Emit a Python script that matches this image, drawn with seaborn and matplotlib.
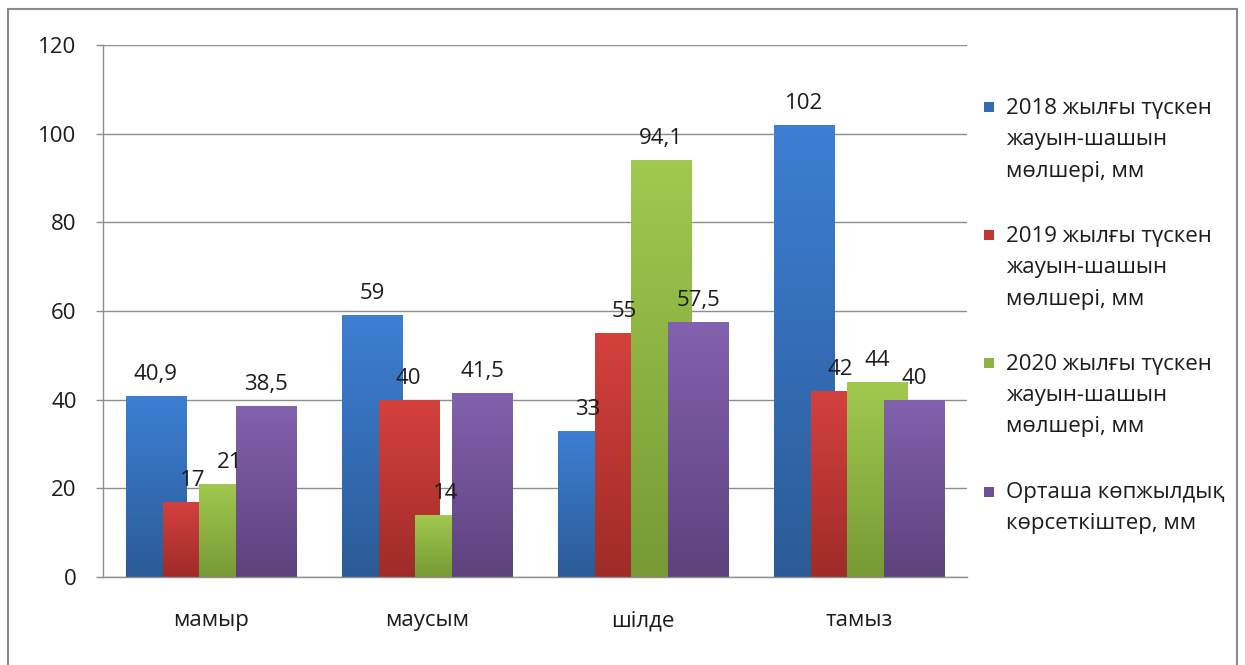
import numpy as np
import pandas as pd
import matplotlib
matplotlib.use("Agg")
import matplotlib.pyplot as plt
import seaborn as sns
from matplotlib.patches import Rectangle
from matplotlib.legend_handler import HandlerPatch
from matplotlib.colors import LinearSegmentedColormap

# ---- data -------------------------------------------------------------
months = ["мамыр", "маусым", "шілде", "тамыз"]
series_names = [
    "2018 жылғы түскен\nжауын-шашын\nмөлшері, мм",
    "2019 жылғы түскен\nжауын-шашын\nмөлшері, мм",
    "2020 жылғы түскен\nжауын-шашын\nмөлшері, мм",
    "Орташа көпжылдық\nкөрсеткіштер, мм",
]
rain_2018 = [40.9, 59, 33, 102]
rain_2019 = [17, 40, 55, 42]
rain_2020 = [21, 14, 94.1, 44]
rain_mean = [38.5, 41.5, 57.5, 40]
y_ticks = [0, 20, 40, 60, 80, 100, 120]

# ---- styling ----------------------------------------------------------
base_colors = ["#3569b4", "#bd3733", "#8cb443", "#6f5096"]
top_colors = ["#3d7fd3", "#d4413d", "#a1c94f", "#8261ae"]
bottom_colors = ["#2b5b97", "#9f2b28", "#779a35", "#5d427c"]
grid_gray = "#8e8e8e"
text_color = "#1c1c1c"
fs = 16

df = pd.DataFrame({
    "month": months * 4,
    "series": np.repeat(series_names, len(months)),
    "value": rain_2018 + rain_2019 + rain_2020 + rain_mean,
})

sns.set_theme(style="white")
plt.rcParams["font.family"] = ["Open Sans", "DejaVu Sans"]

W, H = 1245, 665
fig = plt.figure(figsize=(W / 100, H / 100), dpi=100)
ax = fig.add_axes([103 / W, 1 - 577 / H, (967 - 103) / W, (577 - 45) / H])

sns.barplot(data=df, x="month", y="value", hue="series",
            order=months, hue_order=series_names,
            palette=base_colors, saturation=1, errorbar=None,
            ax=ax, legend=True)

handles, labels = ax.get_legend_handles_labels()
ax.get_legend().remove()

# Overlapping clustered bars with a vertical gradient fill
bar_w = 0.278
step = 0.170
grad = np.linspace(0, 1, 256).reshape(-1, 1)


def fmt(v):
    return (f"{v:g}").replace(".", ",")


for j, cont in enumerate(ax.containers):
    cmap = LinearSegmentedColormap.from_list(f"g{j}", [bottom_colors[j], top_colors[j]])
    for i, bar in enumerate(cont.patches):
        v = bar.get_height()
        cx = i + (j - 1.5) * step
        bar.set_x(cx - bar_w / 2)
        bar.set_width(bar_w)
        bar.set_edgecolor("none")
        bar.set_zorder(2 + j * 0.1)
        img = ax.imshow(grad, cmap=cmap, origin="lower", aspect="auto",
                        extent=[cx - bar_w / 2, cx + bar_w / 2, 0, v],
                        zorder=2 + j * 0.1 + 0.05, interpolation="bilinear")
        img.set_clip_path(bar)
        ax.annotate(fmt(v), (cx, v), xytext=(0, 15.5), textcoords="offset points",
                    ha="center", va="center", fontsize=fs, color=text_color,
                    zorder=10)

ax.set_xlim(-0.5, len(months) - 0.5)
ax.set_ylim(0, 120)
ax.set_yticks(y_ticks)
ax.set_xlabel("")
ax.set_ylabel("")

ax.set_axisbelow(True)
ax.yaxis.grid(True, color=grid_gray, linewidth=1)
ax.xaxis.grid(False)
for side in ("top", "right"):
    ax.spines[side].set_visible(False)
for side in ("left", "bottom"):
    ax.spines[side].set_color(grid_gray)
    ax.spines[side].set_linewidth(1)

ax.tick_params(axis="y", which="both", left=True, length=5, width=1,
               color=grid_gray, direction="out", pad=14,
               labelsize=fs, labelcolor=text_color)
ax.tick_params(axis="x", length=0, pad=24, labelsize=fs, labelcolor=text_color)


# Legend: square marker aligned with the first line of each label
class TopSquare(HandlerPatch):
    def __init__(self, nlines, line_em, **kw):
        super().__init__(**kw)
        self.nlines = nlines
        self.line_em = line_em

    def create_artists(self, legend, orig_handle, xdescent, ydescent,
                       width, height, fontsize, trans):
        size = 0.46 * fontsize
        cy = -ydescent + height / 2 + (self.nlines - 1) / 2 * self.line_em * fontsize
        p = Rectangle((-xdescent + width - size, cy - size / 2), size, size,
                      facecolor=orig_handle.get_facecolor(), edgecolor="none",
                      transform=trans)
        return [p]


line_em = 1.49
hmap = {h: TopSquare(lab.count("\n") + 1, line_em) for h, lab in zip(handles, labels)}
leg = fig.legend(handles, labels, handler_map=hmap,
                 loc="upper left", bbox_to_anchor=(972 / W, 1 - 87 / H),
                 frameon=False, fontsize=fs, handlelength=0.5,
                 handletextpad=0.55, labelspacing=2.0, borderpad=0)
for t in leg.get_texts():
    t.set_linespacing(1.64)
    t.set_color(text_color)

# Chart frame
fig.add_artist(Rectangle((8 / W, -0.02), (1237 - 8) / W, (H - 9) / H + 0.02,
                         transform=fig.transFigure, fill=False,
                         edgecolor="#8a8a8a", linewidth=1.5))

fig.savefig("out.png", dpi=100)
